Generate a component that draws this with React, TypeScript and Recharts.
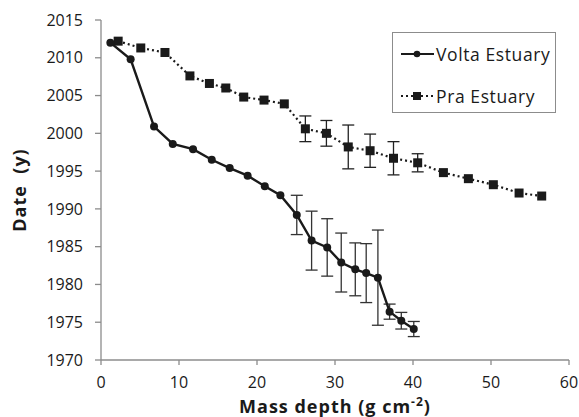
import { ComposedChart, Line, XAxis, YAxis, ErrorBar, Label } from "recharts";

const voltaDepth = [1.2, 3.8, 6.8, 9.2, 11.8, 14.2, 16.5, 18.8, 21.0, 23.0, 25.1, 27.0, 29.0, 30.8, 32.6, 34.0, 35.5, 37.0, 38.5, 40.1];
const voltaYear = [2012.0, 2009.8, 2000.9, 1998.6, 1997.9, 1996.5, 1995.4, 1994.4, 1993.0, 1991.8, 1989.2, 1985.8, 1984.9, 1982.9, 1982.0, 1981.5, 1980.9, 1976.4, 1975.2, 1974.1];
const voltaErr = [null, null, null, null, null, null, null, null, null, null, 2.6, 3.9, 3.8, 3.9, 3.5, 3.9, 6.3, 1.0, 1.1, 1.0];

const praDepth = [2.2, 5.1, 8.2, 11.4, 13.9, 16.0, 18.3, 20.9, 23.5, 26.2, 28.9, 31.7, 34.5, 37.5, 40.6, 43.9, 47.1, 50.3, 53.6, 56.5];
const praYear = [2012.2, 2011.3, 2010.7, 2007.6, 2006.6, 2006.0, 2004.8, 2004.4, 2003.9, 2000.6, 2000.0, 1998.2, 1997.7, 1996.7, 1996.1, 1994.8, 1994.0, 1993.2, 1992.1, 1991.7];
const praErr = [null, null, null, null, null, null, null, null, null, 1.7, 1.7, 2.9, 2.2, 2.2, 1.2, null, null, null, null, null];

const xTicks = [0, 10, 20, 30, 40, 50, 60];
const yTicks = [1970, 1975, 1980, 1985, 1990, 1995, 2000, 2005, 2010, 2015];

const voltaData = voltaDepth.map((d, i) => ({ depth: d, year: voltaYear[i], err: voltaErr[i] }));
const praData = praDepth.map((d, i) => ({ depth: d, year: praYear[i], err: praErr[i] }));

const FONT = "'Open Sans', sans-serif";
const AXIS = "#8c8c8c";

const Square = (props: any) => {
  const { cx, cy } = props;
  if (cx == null || cy == null) return null;
  return <rect x={cx - 4.5} y={cy - 4.5} width={9} height={9} fill="#1a1a1a" />;
};

function LegendBox() {
  return (
    <div
      style={{
        position: "absolute",
        left: 392,
        top: 32,
        width: 162,
        height: 79,
        border: "1.5px solid #8c8c8c",
        background: "#fff",
        fontFamily: FONT,
        fontSize: 17.5,
        letterSpacing: 0.6,
        color: "#1a1a1a",
        boxSizing: "content-box",
      }}
    >
      <div style={{ display: "flex", alignItems: "center", height: 20, marginTop: 11, paddingLeft: 7 }}>
        <svg width={35} height={12}>
          <line x1={1} y1={6} x2={34} y2={6} stroke="#1a1a1a" strokeWidth={2.2} />
          <circle cx={17} cy={6} r={3.3} fill="#1a1a1a" />
        </svg>
        <span style={{ marginLeft: 1 }}>Volta Estuary</span>
      </div>
      <div style={{ display: "flex", alignItems: "center", height: 20, marginTop: 22, paddingLeft: 7 }}>
        <svg width={35} height={12}>
          <line x1={1} y1={6} x2={34} y2={6} stroke="#1a1a1a" strokeWidth={2} strokeDasharray="2 3" />
          <rect x={13} y={2} width={8} height={8} fill="#1a1a1a" />
        </svg>
        <span style={{ marginLeft: 1 }}>Pra Estuary</span>
      </div>
    </div>
  );
}

export default function App() {
  return (
    <div style={{ position: "absolute", left: 0, top: 0, width: 579, height: 417, background: "#fff" }}>
      <ComposedChart width={579} height={417} margin={{ top: 20, right: 10, bottom: 0, left: 0 }}>
        <XAxis
          type="number"
          dataKey="depth"
          domain={[0, 60]}
          ticks={xTicks}
          allowDuplicatedCategory={false}
          height={57}
          stroke={AXIS}
          strokeWidth={1.3}
          tickSize={5}
          tickMargin={12}
          tick={{ fill: "#1a1a1a", fontSize: 16, fontFamily: FONT }}
        >
          <Label
            content={({ viewBox }: any) => (
              <text
                x={viewBox.x + viewBox.width / 2}
                y={413}
                textAnchor="middle"
                fontFamily={FONT}
                fontWeight="bold"
                fontSize={18}
                letterSpacing={1}
                fill="#1a1a1a"
              >
                Mass depth (g cm
                <tspan dy={-7} fontSize={12}>-2</tspan>
                <tspan dy={7}>)</tspan>
              </text>
            )}
          />
        </XAxis>
        <YAxis
          type="number"
          dataKey="year"
          domain={[1970, 2015]}
          ticks={yTicks}
          width={101}
          stroke={AXIS}
          strokeWidth={1.3}
          tickSize={6}
          tickMargin={12}
          tick={{ fill: "#1a1a1a", fontSize: 16, fontFamily: FONT }}
        >
          <Label
            content={({ viewBox }: any) => (
              <text
                x={26}
                y={viewBox.y + viewBox.height / 2}
                transform={`rotate(-90, 26, ${viewBox.y + viewBox.height / 2})`}
                textAnchor="middle"
                fontFamily={FONT}
                fontWeight="bold"
                fontSize={18}
                letterSpacing={1}
                fill="#1a1a1a"
                style={{ whiteSpace: "pre" }}
              >
                {"Date  (y)"}
              </text>
            )}
          />
        </YAxis>
        <Line
          data={praData}
          dataKey="year"
          name="Pra Estuary"
          stroke="#1a1a1a"
          strokeWidth={2.2}
          strokeDasharray="2 3"
          dot={<Square />}
          activeDot={false}
          isAnimationActive={false}
        >
          <ErrorBar dataKey="err" width={6} stroke="#222" strokeWidth={1.3} direction="y" />
        </Line>
        <Line
          data={voltaData}
          dataKey="year"
          name="Volta Estuary"
          stroke="#1a1a1a"
          strokeWidth={2.4}
          dot={{ r: 4, fill: "#1a1a1a", stroke: "none" }}
          activeDot={false}
          isAnimationActive={false}
        >
          <ErrorBar dataKey="err" width={6} stroke="#333" strokeWidth={1.3} direction="y" />
        </Line>
      </ComposedChart>
      <LegendBox />
    </div>
  );
}
